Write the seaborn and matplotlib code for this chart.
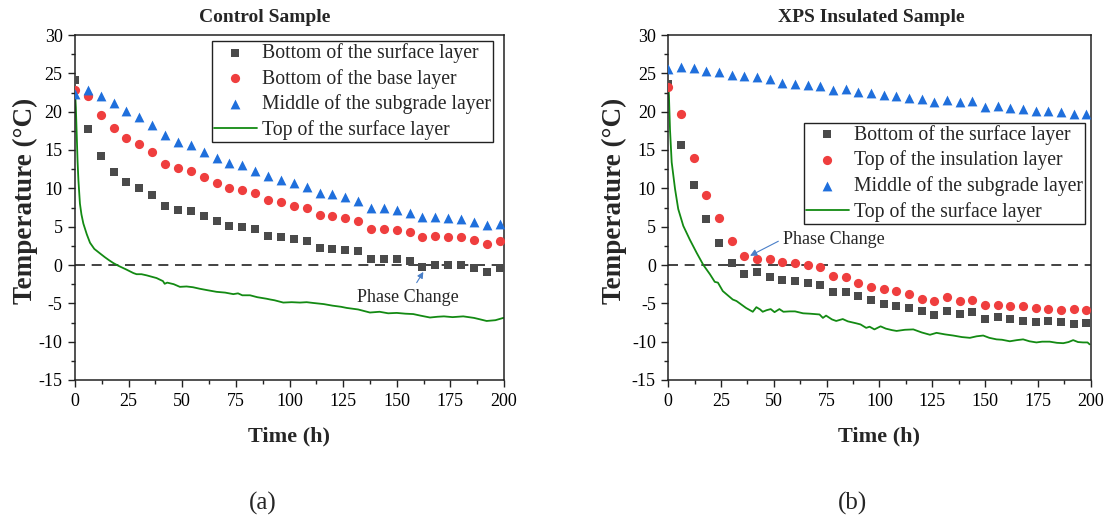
import matplotlib
matplotlib.use("Agg")
import matplotlib.pyplot as plt
from matplotlib.ticker import MultipleLocator
import seaborn as sns
import pandas as pd

# ---------------- data ----------------
t_marks = [0, 6, 12, 18, 24, 30, 36, 42, 48, 54, 60, 66, 72, 78, 84, 90, 96,
           102, 108, 114, 120, 126, 132, 138, 144, 150, 156, 162, 168, 174, 180, 186, 192, 198]

ctrl_surface_bottom = [24.1, 17.8, 14.2, 12.1, 10.8, 10.1, 9.1, 7.7, 7.2, 7.0, 6.4, 5.7, 5.1, 5.0, 4.7, 3.8, 3.6,
                       3.4, 3.1, 2.2, 2.1, 2.0, 1.8, 0.8, 0.8, 0.8, 0.55, -0.2, 0.0, 0.0, -0.05, -0.45, -0.9, -0.45]
ctrl_base_bottom = [22.8, 22.0, 19.6, 17.9, 16.6, 15.8, 14.8, 13.2, 12.6, 12.3, 11.5, 10.75, 10.0, 9.8, 9.4, 8.5, 8.2,
                    7.7, 7.4, 6.5, 6.4, 6.1, 5.7, 4.7, 4.7, 4.6, 4.35, 3.7, 3.8, 3.7, 3.6, 3.2, 2.7, 3.15]
ctrl_subgrade_mid = [22.3, 22.8, 22.1, 21.1, 20.1, 19.25, 18.2, 16.9, 16.1, 15.6, 14.8, 14.0, 13.3, 13.0, 12.3, 11.6, 11.1,
                     10.7, 10.2, 9.4, 9.2, 8.9, 8.3, 7.4, 7.4, 7.2, 6.8, 6.2, 6.25, 6.1, 5.95, 5.6, 5.2, 5.4]

ctrl_top_t = [0, 0.4, 0.8, 1.2, 1.6, 2.3, 3.0, 3.9, 5.5, 7.0, 9.0, 11.7, 14.0, 16.0, 17.9, 20.2, 24.0, 27.2, 28.7,
              31, 33.4, 36, 38, 41, 41.8, 43, 46, 48.9, 52, 55, 58.2, 62, 66, 70, 73.8, 76, 78, 81.6, 85, 89.3,
              91, 93, 97.1, 101, 104.9, 108, 111, 116, 120, 124, 126.7, 132, 137.5, 142, 146, 150, 154, 157.7,
              161, 165.5, 169, 172, 176, 181, 186, 189, 191.9, 196, 199.7]
ctrl_top_v = [22.8, 20.5, 17.0, 13.5, 11.0, 8.0, 6.6, 5.4, 4.0, 2.9, 2.1, 1.5, 1.0, 0.6, 0.25, -0.1, -0.6, -1.05, -1.2,
              -1.2, -1.35, -1.55, -1.7, -2.1, -2.45, -2.3, -2.5, -2.85, -2.8, -2.9, -3.1, -3.3, -3.5, -3.6, -3.8,
              -3.7, -3.95, -3.95, -4.2, -4.4, -4.5, -4.6, -4.9, -4.85, -4.9, -4.85, -4.95, -5.1, -5.3, -5.45, -5.6,
              -5.8, -6.2, -6.1, -6.3, -6.25, -6.35, -6.4, -6.6, -6.85, -6.75, -6.7, -6.8, -6.7, -6.9, -7.1, -7.3,
              -7.2, -6.9]

xps_surface_bottom = [23.6, 15.6, 10.4, 6.0, 2.9, 0.3, -1.2, -0.9, -1.5, -1.9, -2.1, -2.4, -2.6, -3.55, -3.55, -4.1, -4.5,
                      -5.05, -5.3, -5.6, -5.95, -6.5, -6.0, -6.45, -6.1, -7.1, -6.8, -7.0, -7.25, -7.4, -7.25, -7.4, -7.65, -7.6]
xps_insulation_top = [23.2, 19.7, 13.95, 9.1, 6.1, 3.1, 1.2, 0.75, 0.75, 0.4, 0.2, 0.05, -0.3, -1.45, -1.6, -2.3, -2.9,
                      -3.1, -3.45, -3.8, -4.4, -4.7, -4.2, -4.7, -4.6, -5.2, -5.2, -5.4, -5.3, -5.55, -5.75, -5.85, -5.7, -5.85]
xps_subgrade_mid = [25.6, 25.8, 25.7, 25.3, 25.2, 24.8, 24.65, 24.5, 24.3, 23.8, 23.65, 23.5, 23.4, 22.8, 22.95, 22.6, 22.4,
                    22.2, 22.1, 21.8, 21.6, 21.25, 21.55, 21.2, 21.4, 20.65, 20.8, 20.5, 20.4, 20.1, 20.05, 19.9, 19.7, 19.7]

xps_top_t = [0, 0.3, 0.8, 1.6, 3.2, 4.7, 7.1, 10.2, 13.4, 16.6, 19.7, 22.0, 23.5, 25.8, 27.5, 30.5, 32.3, 36.8, 40.0,
             41.7, 43.5, 44.7, 46.5, 48.5, 50.3, 52.6, 54.5, 57.4, 60, 63.8, 67, 71.6, 73.2, 74.7, 77.5, 79.5, 82.6,
             85, 88.9, 91, 93.7, 95.3, 97.6, 100.5, 103, 106, 108.1, 112, 116, 120, 123.9, 127, 131, 134.9, 139,
             142.8, 146, 149.1, 152, 155.4, 158, 161.7, 165, 168, 171, 174.3, 177, 180.6, 184, 187, 189.5, 191.7,
             194, 196.4, 198.5, 199.5]
xps_top_v = [23.5, 22.1, 17.7, 13.4, 9.9, 7.3, 5.1, 3.3, 1.6, 0.0, -1.2, -2.2, -2.3, -3.4, -3.8, -4.5, -4.7, -5.6, -6.1,
             -5.5, -5.8, -6.1, -5.9, -5.75, -6.15, -5.75, -6.1, -6.05, -6.05, -6.3, -6.35, -6.45, -6.9, -6.6, -7.1,
             -7.3, -7.05, -7.35, -7.6, -7.75, -8.2, -8.05, -8.4, -8.0, -8.3, -8.5, -8.6, -8.45, -8.4, -8.8, -9.1,
             -8.85, -9.05, -9.2, -9.4, -9.5, -9.3, -9.2, -9.5, -9.7, -9.75, -9.95, -9.8, -9.7, -9.95, -10.1, -10.0,
             -10.0, -10.15, -10.2, -10.05, -9.8, -10.05, -10.1, -10.1, -10.35]

titles = ["Control Sample", "XPS Insulated Sample"]
labels_a = ["Bottom of the surface layer", "Bottom of the base layer",
            "Middle of the subgrade layer", "Top of the surface layer"]
labels_b = ["Bottom of the surface layer", "Top of the insulation layer",
            "Middle of the subgrade layer", "Top of the surface layer"]

# ---------------- style ----------------
sns.set_theme(style="ticks")
plt.rcParams["font.family"] = ["Liberation Serif", "DejaVu Serif"]
plt.rcParams["axes.unicode_minus"] = False

C_GRAY = "#4a4a4a"
C_RED = "#ef3e3e"
C_BLUE = "#1f6fdc"
C_GREEN = "#138a13"
C_ARROW = "#4a7fc8"

fig = plt.figure(figsize=(11.11, 5.18), dpi=100)
ax_a = fig.add_axes([75 / 1111, 1 - 380 / 518, 429 / 1111, 345 / 518])
ax_b = fig.add_axes([668.3 / 1111, 1 - 380 / 518, 422.4 / 1111, 345 / 518])


def draw(ax, s1, s2, s3, lt, lv, labels, leg_anchor):
    ax.axhline(0, color="#222222", lw=1.2, ls=(0, (6, 4)), zorder=1)
    df = pd.DataFrame({"t": t_marks, "a": s1, "b": s2, "c": s3})
    sns.scatterplot(data=df, x="t", y="a", ax=ax, marker="s", s=33, color=C_GRAY,
                    linewidth=0, zorder=3, label=labels[0])
    sns.scatterplot(data=df, x="t", y="b", ax=ax, marker="o", s=44, color=C_RED,
                    linewidth=0, zorder=3, label=labels[1])
    sns.scatterplot(data=df, x="t", y="c", ax=ax, marker="^", s=50, color=C_BLUE,
                    linewidth=0, zorder=3, label=labels[2])
    ldf = pd.DataFrame({"t": lt, "v": lv})
    sns.lineplot(data=ldf, x="t", y="v", ax=ax, color=C_GREEN, lw=1.3, sort=False,
                 estimator=None, zorder=2, label=labels[3])
    ax.set_xlim(0, 200)
    ax.set_ylim(-15, 30)
    ax.xaxis.set_major_locator(MultipleLocator(25))
    ax.xaxis.set_minor_locator(MultipleLocator(12.5))
    ax.yaxis.set_major_locator(MultipleLocator(5))
    ax.yaxis.set_minor_locator(MultipleLocator(2.5))
    ax.tick_params(axis="both", which="major", direction="out", length=5, width=1.0,
                   labelsize=13, pad=4, colors="#222222", top=False, right=False)
    ax.tick_params(axis="both", which="minor", direction="out", length=3, width=1.0,
                   colors="#222222", top=False, right=False)
    for lab in ax.get_xticklabels() + ax.get_yticklabels():
        lab.set_color("black")
    for sp in ax.spines.values():
        sp.set_visible(True)
        sp.set_linewidth(1.1)
        sp.set_color("#222222")
    ax.set_xlabel("Time (h)", fontsize=16, fontweight="bold", labelpad=12)
    ax.set_ylabel("Temperature (\u00b0C)", fontsize=19.5, fontweight="bold")
    handles, labs = ax.get_legend_handles_labels()
    order = [labs.index(l) for l in labels]
    leg = ax.legend([handles[i] for i in order], [labs[i] for i in order],
                    loc="upper right", bbox_to_anchor=leg_anchor, borderaxespad=0,
                    fontsize=14.2, frameon=True, fancybox=False, framealpha=1,
                    edgecolor="#222222", labelspacing=0.3, handlelength=2.2,
                    handletextpad=0.25, borderpad=0.1, scatterpoints=1)
    leg.get_frame().set_linewidth(1.0)


draw(ax_a, ctrl_surface_bottom, ctrl_base_bottom, ctrl_subgrade_mid, ctrl_top_t, ctrl_top_v,
     labels_a, (0.974, 0.983))
draw(ax_b, xps_surface_bottom, xps_insulation_top, xps_subgrade_mid, xps_top_t, xps_top_v,
     labels_b, (0.9865, 0.746))

ax_a.yaxis.set_label_coords(-0.086, 0.52)
ax_b.yaxis.set_label_coords(-0.098, 0.52)

# annotations
ax_a.text(155, -4.3, "Phase Change", fontsize=13, ha="center", va="center")
ax_a.annotate("", xy=(162.4, -0.9), xytext=(159.3, -2.3),
              arrowprops=dict(arrowstyle="-|>", color=C_ARROW, lw=0.8,
                              mutation_scale=9, shrinkA=0, shrinkB=0))
ax_b.text(54.2, 3.35, "Phase Change", fontsize=13, ha="left", va="center")
ax_b.annotate("", xy=(38.7, 1.2), xytext=(52.1, 3.1),
              arrowprops=dict(arrowstyle="-|>", color=C_ARROW, lw=0.8,
                              mutation_scale=10, shrinkA=0, shrinkB=0))

# titles and panel labels
fig.text(265 / 1111, 1 - 17 / 518, titles[0], ha="center", va="center",
         fontsize=14, fontweight="bold")
fig.text(871 / 1111, 1 - 17 / 518, titles[1], ha="center", va="center",
         fontsize=14, fontweight="bold")
fig.text(263 / 1111, 1 - 503 / 518, "(a)", ha="center", va="center", fontsize=18)
fig.text(852 / 1111, 1 - 503 / 518, "(b)", ha="center", va="center", fontsize=18)

fig.savefig("out.png", dpi=100)
